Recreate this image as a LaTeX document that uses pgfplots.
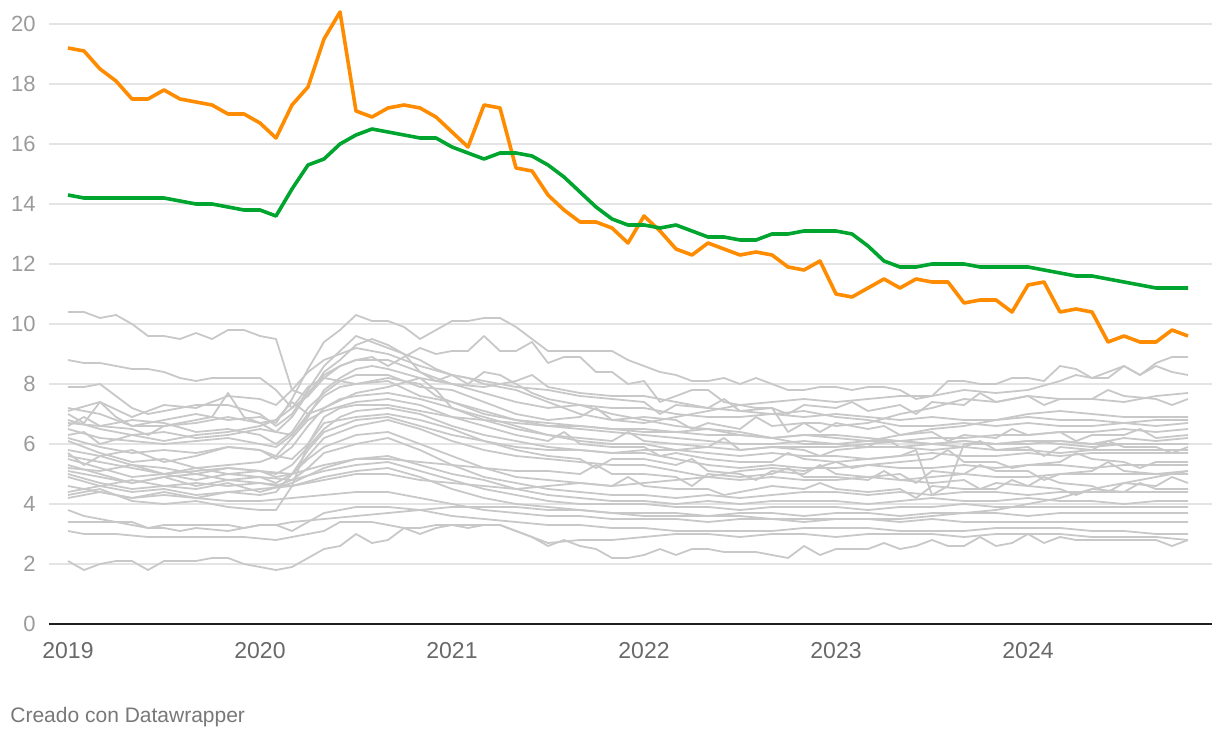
\documentclass[border=0pt]{standalone}
\usepackage{fontspec}
\setmainfont{Liberation Sans}
\usepackage{pgfplots}
\pgfplotsset{compat=1.18}
\definecolor{serieorange}{RGB}{255,140,0}
\definecolor{seriegreen}{RGB}{0,165,48}
\definecolor{greyline}{RGB}{200,200,200}
\definecolor{gridgrey}{RGB}{228,228,228}
\definecolor{ylab}{RGB}{155,155,155}
\definecolor{xlab}{RGB}{105,105,105}
\definecolor{foot}{RGB}{120,120,120}

\begin{document}
\begin{tikzpicture}
\useasboundingbox (-24.5pt,-58pt) rectangle (585.5pt,312pt);
\begin{axis}[
  scale only axis, width=581.5pt, height=300pt,
  xmin=-1.1875, xmax=71.5, ymin=0, ymax=20,
  clip=false,
  axis line style={draw=none},
  major tick length=0pt,
  /pgf/number format/assume math mode=true,
  ytick={2,4,...,20},
  extra y ticks={0},
  extra y tick style={grid style={draw=black!88, line width=1.3pt}},
  ymajorgrids, grid style={draw=gridgrey, line width=0.75pt},
  yticklabel style={font=\fontsize{11}{13}\selectfont, text=ylab, anchor=east, inner sep=0pt, xshift=-6.5pt},
  xtick={0,12,24,36,48,60},
  xticklabels={2019,2020,2021,2022,2023,2024},
  xticklabel style={font=\fontsize{11.5}{13}\selectfont, text=xlab, anchor=north, inner sep=0pt, yshift=-9pt},
  grey/.style={greyline, line width=0.9pt, line join=round},
]
% grey comparison series
\addplot[grey] coordinates {(0,10.4) (1,10.4) (2,10.2) (3,10.3) (4,10.0) (5,9.6) (6,9.6) (7,9.5) (8,9.7) (9,9.5) (10,9.8) (11,9.8) (12,9.6) (13,9.5) (14,7.8) (15,7.6) (16,8.2) (17,8.6) (18,8.8) (19,8.9) (20,8.6) (21,8.9) (22,9.2) (23,9.0) (24,9.1) (25,9.1) (26,9.6) (27,9.1) (28,9.1) (29,9.4) (30,8.7) (31,8.9) (32,8.9) (33,8.4) (34,8.4) (35,8.0) (36,8.1) (37,7.4) (38,7.6) (39,7.8) (40,7.8) (41,7.4) (42,7.3) (43,7.2) (44,7.2) (45,6.4) (46,6.7) (47,6.7) (48,6.6) (50,6.7) (52,7.0) (54,7.2) (56,7.5) (58,7.4) (60,7.6) (62,7.5) (64,7.5) (66,7.4) (68,7.6) (70,7.7)};
\addplot[grey] coordinates {(0,7.2) (2,7.0) (4,6.6) (6,6.8) (8,7.0) (10,6.8) (12,6.9) (13,6.7) (14,7.5) (15,8.5) (16,9.4) (17,9.8) (18,10.3) (19,10.1) (20,10.1) (21,9.9) (22,9.5) (23,9.8) (24,10.1) (25,10.1) (26,10.2) (27,10.2) (28,9.9) (29,9.5) (30,9.1) (32,9.1) (34,9.1) (35,8.8) (36,8.6) (37,8.4) (38,8.3) (39,8.1) (40,8.1) (41,8.2) (42,8.0) (43,8.2) (44,8.0) (45,7.8) (46,7.8) (47,7.9) (48,7.9) (49,7.8) (50,7.9) (51,7.9) (52,7.8) (53,7.5) (54,7.6) (55,8.1) (56,8.1) (57,8.0) (58,8.0) (59,8.2) (60,8.2) (61,8.1) (62,8.6) (63,8.5) (64,8.2) (65,8.2) (66,8.6) (67,8.3) (68,8.7) (69,8.9) (70,8.9)};
\addplot[grey] coordinates {(0,8.8) (1,8.7) (2,8.7) (3,8.6) (4,8.5) (5,8.5) (6,8.4) (7,8.2) (8,8.1) (9,8.2) (10,8.2) (11,8.2) (12,8.2) (13,7.8) (14,7.2) (15,7.6) (16,8.4) (17,8.8) (18,9.3) (19,9.5) (20,9.3) (21,9.0) (22,8.8) (23,8.5) (24,8.3) (25,8.0) (26,8.4) (27,8.3) (28,8.0) (29,7.7) (30,7.5) (32,7.3) (34,7.0) (36,6.8) (38,6.6) (40,6.5) (42,6.4) (44,6.2) (46,6.0) (48,6.0) (50,6.1) (52,6.3) (54,6.5) (56,6.6) (58,6.8) (60,7.0) (62,7.1) (64,7.0) (66,6.9) (68,6.9) (70,6.9)};
\addplot[grey] coordinates {(0,7.9) (1,7.9) (2,8.0) (3,7.6) (4,7.2) (5,7.0) (6,7.1) (7,7.2) (8,7.3) (10,7.3) (12,7.0) (13,6.6) (14,7.0) (15,7.8) (16,8.6) (17,9.1) (18,9.6) (19,9.4) (20,9.2) (21,9.0) (22,8.4) (23,8.1) (24,8.3) (25,8.2) (26,8.0) (28,7.8) (30,7.4) (32,7.0) (34,6.8) (36,6.7) (38,6.9) (40,7.1) (42,7.3) (44,7.4) (46,7.5) (48,7.4) (50,7.5) (52,7.6) (54,7.6) (56,7.8) (58,7.7) (60,7.8) (62,8.1) (63,8.3) (64,8.2) (65,8.4) (66,8.6) (67,8.3) (68,8.6) (69,8.4) (70,8.3)};
\addplot[grey] coordinates {(0,7.1) (2,7.4) (4,6.9) (6,7.3) (8,7.2) (10,7.6) (12,7.5) (13,7.3) (14,7.8) (15,8.4) (16,8.8) (18,9.2) (20,9.0) (22,8.6) (24,8.3) (26,8.1) (28,7.9) (30,7.8) (32,7.6) (34,7.5) (36,7.4) (37,7.0) (38,7.3) (40,7.2) (41,7.5) (42,7.1) (44,7.2) (45,7.0) (46,7.3) (48,7.2) (49,7.4) (50,7.1) (52,7.3) (53,7.0) (54,7.4) (56,7.3) (57,7.7) (58,7.4) (60,7.6) (61,7.3) (62,7.5) (64,7.5) (65,7.8) (66,7.6) (68,7.5) (69,7.3) (70,7.5)};
\addplot[grey] coordinates {(0,7.0) (1,6.7) (2,7.4) (3,6.9) (4,6.6) (6,6.6) (8,6.8) (9,6.9) (10,7.7) (11,6.9) (12,6.7) (13,6.4) (14,6.9) (15,7.7) (16,8.3) (17,8.6) (18,8.8) (20,8.8) (22,8.4) (24,8.0) (26,7.9) (28,8.1) (29,8.3) (30,7.9) (32,7.7) (34,7.6) (36,7.6) (38,7.4) (40,7.2) (42,7.1) (44,7.0) (46,6.9) (48,7.0) (50,6.9) (52,6.8) (54,6.9) (56,6.8) (58,6.8) (60,6.9) (62,6.8) (64,6.8) (66,6.7) (68,6.8) (70,6.8)};
\addplot[grey] coordinates {(0,6.8) (2,6.5) (4,6.3) (6,6.4) (8,6.2) (10,6.3) (12,6.5) (13,6.4) (14,6.3) (15,6.9) (16,7.8) (17,8.2) (18,8.5) (19,8.6) (20,8.5) (22,8.2) (24,8.0) (26,7.7) (28,7.4) (30,7.2) (32,7.3) (34,7.2) (36,7.2) (38,7.0) (40,6.9) (42,6.9) (44,7.0) (46,7.1) (48,6.9) (50,6.8) (52,6.6) (54,6.6) (56,6.7) (58,6.6) (60,6.7) (62,6.6) (64,6.6) (66,6.7) (68,6.6) (70,6.7)};
\addplot[grey] coordinates {(0,6.7) (2,6.6) (4,6.8) (6,6.7) (8,6.4) (10,6.5) (12,6.3) (13,6.0) (14,6.4) (15,7.2) (16,7.7) (17,8.1) (18,8.3) (20,8.3) (21,8.1) (22,7.9) (24,7.8) (26,7.4) (28,7.0) (30,6.8) (32,6.9) (33,7.2) (34,6.8) (36,6.9) (38,6.8) (39,6.5) (40,6.7) (42,6.5) (43,6.9) (44,6.6) (46,6.7) (47,6.4) (48,6.7) (50,6.5) (51,6.6) (52,6.3) (54,6.4) (55,6.1) (56,6.3) (58,6.2) (59,6.5) (60,6.3) (62,6.4) (63,6.1) (64,6.3) (66,6.3) (67,6.5) (68,6.2) (70,6.3)};
\addplot[grey] coordinates {(0,6.6) (1,6.9) (2,6.6) (4,6.5) (5,6.3) (6,6.6) (8,6.7) (10,6.9) (12,6.7) (13,6.8) (14,7.2) (15,7.9) (16,8.2) (18,8.0) (20,8.2) (22,8.0) (23,7.6) (24,7.4) (26,7.0) (28,6.8) (30,6.7) (32,6.6) (34,6.5) (36,6.4) (38,6.4) (40,6.5) (42,6.3) (44,6.2) (46,6.3) (48,6.3) (50,6.2) (52,6.1) (54,6.0) (56,6.1) (58,6.0) (60,6.1) (62,6.0) (64,5.9) (66,6.0) (68,6.0) (70,6.0)};
\addplot[grey] coordinates {(0,6.5) (2,6.2) (4,6.1) (6,6.0) (8,6.1) (10,6.2) (12,6.0) (13,5.9) (14,6.3) (15,7.0) (16,7.6) (17,7.9) (18,8.0) (20,8.1) (22,7.6) (24,7.4) (26,7.1) (28,6.8) (30,6.6) (32,6.5) (34,6.4) (36,6.3) (38,6.2) (40,6.1) (42,6.0) (44,6.0) (46,6.1) (48,6.0) (50,5.9) (52,5.9) (54,5.8) (56,5.9) (58,5.8) (60,5.8) (62,5.7) (64,5.8) (66,5.8) (68,5.8) (70,5.8)};
\addplot[grey] coordinates {(0,6.3) (1,6.4) (2,6.0) (4,6.3) (6,6.1) (8,6.3) (10,6.4) (12,6.6) (13,6.8) (14,7.4) (15,7.0) (16,7.2) (18,7.7) (20,7.9) (22,8.2) (23,7.8) (24,7.2) (26,6.8) (28,6.5) (30,6.3) (32,6.2) (34,6.1) (35,6.4) (36,6.1) (38,6.0) (40,5.9) (41,6.2) (42,5.8) (44,5.9) (46,5.8) (47,5.6) (48,5.8) (50,5.9) (51,6.2) (52,5.9) (54,6.0) (56,5.9) (57,6.1) (58,5.8) (60,5.9) (61,5.6) (62,5.9) (64,5.8) (65,6.1) (66,5.9) (68,5.9) (69,5.7) (70,5.9)};
\addplot[grey] coordinates {(0,6.2) (2,5.9) (4,5.7) (6,5.8) (8,5.7) (10,5.9) (12,5.8) (13,5.5) (14,5.9) (15,6.6) (16,7.2) (17,7.5) (18,7.6) (20,7.7) (22,7.5) (24,7.2) (26,6.9) (28,6.6) (30,6.3) (32,6.1) (34,6.0) (36,6.0) (38,5.8) (40,5.7) (42,5.6) (44,5.7) (46,5.6) (48,5.6) (50,5.5) (52,5.6) (54,5.7) (56,5.6) (58,5.6) (60,5.7) (62,5.6) (64,5.7) (66,5.7) (68,5.7) (70,5.7)};
\addplot[grey] coordinates {(0,6.1) (2,5.7) (4,5.4) (6,5.5) (8,5.2) (10,5.3) (12,5.4) (13,5.6) (14,6.2) (15,6.8) (16,7.1) (18,7.4) (20,7.5) (22,7.3) (24,6.9) (26,6.6) (28,6.3) (30,6.1) (31,6.4) (32,6.0) (34,5.9) (36,5.9) (37,5.6) (38,5.7) (40,5.5) (42,5.4) (44,5.4) (45,5.7) (46,5.5) (48,5.4) (49,5.2) (50,5.3) (52,5.4) (54,5.5) (55,5.8) (56,5.4) (58,5.4) (59,5.2) (60,5.3) (62,5.4) (63,5.7) (64,5.5) (66,5.4) (67,5.2) (68,5.4) (70,5.4)};
\addplot[grey] coordinates {(0,5.8) (2,5.6) (4,5.3) (6,5.0) (8,5.1) (10,5.2) (12,5.1) (13,5.0) (14,5.3) (15,5.9) (16,6.5) (17,6.9) (18,7.1) (20,7.2) (22,7.0) (24,6.6) (26,6.3) (28,6.1) (30,5.9) (32,5.8) (34,5.7) (36,5.7) (38,5.5) (40,5.3) (42,5.2) (44,5.3) (46,5.2) (48,5.2) (50,5.3) (52,5.2) (54,5.2) (56,5.3) (58,5.2) (60,5.3) (62,5.3) (64,5.2) (66,5.3) (68,5.3) (70,5.3)};
\addplot[grey] coordinates {(0,5.7) (1,5.3) (2,5.6) (4,5.8) (6,5.4) (8,5.6) (10,5.9) (12,5.8) (13,5.6) (14,5.5) (15,6.0) (16,6.7) (18,6.9) (20,7.0) (22,6.8) (24,6.5) (26,6.1) (28,5.8) (30,5.6) (32,5.5) (33,5.2) (34,5.5) (36,5.5) (38,5.3) (39,5.5) (40,5.1) (42,5.0) (43,4.8) (44,5.1) (46,5.0) (47,5.3) (48,5.0) (50,4.9) (52,5.0) (53,4.7) (54,5.1) (56,5.0) (57,5.3) (58,5.1) (60,5.1) (61,4.8) (62,5.0) (64,5.1) (65,5.4) (66,5.1) (68,5.0) (70,5.1)};
\addplot[grey] coordinates {(0,5.6) (2,5.4) (4,5.2) (6,5.0) (8,5.2) (10,5.0) (12,5.1) (13,4.9) (14,5.0) (15,5.6) (16,6.2) (18,6.6) (20,6.8) (22,6.5) (24,6.1) (26,5.8) (28,5.6) (30,5.5) (32,5.4) (34,5.3) (36,5.3) (38,5.1) (40,4.9) (42,4.8) (44,4.9) (46,4.8) (48,4.8) (50,4.9) (52,4.8) (54,4.9) (56,5.0) (58,4.9) (60,4.9) (62,5.0) (64,5.0) (66,5.0) (68,5.0) (70,5.0)};
\addplot[grey] coordinates {(0,5.5) (2,5.2) (4,4.9) (6,5.0) (8,4.8) (10,5.0) (12,4.9) (13,4.7) (14,5.0) (15,5.5) (16,5.9) (18,6.3) (20,6.4) (22,6.0) (24,5.6) (26,5.2) (28,4.9) (30,4.8) (32,4.7) (34,4.6) (35,4.9) (36,4.6) (38,4.5) (40,4.5) (41,4.3) (42,4.4) (44,4.6) (46,4.5) (47,4.7) (48,4.5) (50,4.4) (52,4.5) (53,4.2) (54,4.6) (56,4.5) (58,4.5) (59,4.8) (60,4.6) (62,4.5) (63,4.3) (64,4.5) (66,4.4) (67,4.7) (68,4.5) (70,4.5)};
\addplot[grey] coordinates {(0,5.3) (2,5.0) (4,4.7) (6,4.9) (8,4.6) (10,4.8) (12,4.7) (13,4.6) (14,4.8) (15,5.2) (16,5.7) (18,6.0) (20,6.2) (22,5.8) (24,5.3) (26,4.9) (28,4.7) (30,4.5) (32,4.4) (34,4.3) (36,4.3) (38,4.2) (40,4.3) (42,4.2) (44,4.3) (46,4.4) (48,4.4) (50,4.3) (52,4.4) (54,4.3) (56,4.4) (58,4.4) (60,4.3) (62,4.4) (64,4.4) (66,4.4) (68,4.4) (70,4.4)};
\addplot[grey] coordinates {(0,5.2) (2,5.1) (4,5.3) (6,5.2) (8,5.0) (10,5.2) (12,5.1) (14,5.0) (16,5.3) (18,5.5) (20,5.6) (22,5.3) (24,5.0) (26,4.8) (28,4.5) (30,4.3) (32,4.2) (34,4.1) (36,4.1) (38,4.0) (40,4.1) (42,4.0) (44,4.1) (46,4.1) (48,4.1) (50,4.0) (52,4.1) (54,4.2) (56,4.1) (58,4.1) (60,4.2) (62,4.1) (64,4.1) (66,4.0) (68,4.1) (70,4.1)};
\addplot[grey] coordinates {(0,5.1) (2,4.9) (4,4.7) (6,4.9) (8,5.0) (10,4.8) (12,4.9) (14,4.8) (16,5.1) (18,5.3) (20,5.4) (22,5.1) (24,4.8) (26,4.5) (28,4.3) (30,4.1) (32,4.0) (34,4.0) (36,4.0) (38,3.9) (40,3.9) (42,3.8) (44,3.9) (46,3.9) (48,3.9) (50,3.8) (52,3.9) (54,3.9) (56,4.0) (58,3.9) (60,3.9) (62,3.9) (64,3.9) (66,3.9) (68,3.9) (70,3.9)};
\addplot[grey] coordinates {(0,5.0) (2,4.7) (4,4.5) (6,4.6) (8,4.7) (10,4.6) (12,4.7) (14,4.6) (16,4.9) (18,5.1) (20,5.2) (22,4.9) (24,4.5) (26,4.2) (28,4.0) (30,3.9) (32,3.8) (34,3.7) (36,3.7) (38,3.7) (40,3.6) (42,3.7) (44,3.7) (46,3.6) (48,3.7) (50,3.7) (52,3.6) (54,3.7) (56,3.7) (58,3.7) (60,3.6) (62,3.7) (64,3.7) (66,3.7) (68,3.7) (70,3.7)};
\addplot[grey] coordinates {(0,4.9) (2,4.6) (4,4.4) (6,4.5) (8,4.3) (10,4.4) (12,4.5) (14,4.6) (16,4.8) (18,5.0) (20,5.0) (22,4.8) (24,4.7) (26,4.6) (28,4.5) (30,4.6) (32,4.7) (34,4.6) (36,4.7) (38,4.8) (40,4.9) (42,5.1) (44,5.2) (46,5.1) (48,5.4) (50,5.5) (52,5.6) (53,5.8) (54,4.3) (55,4.6) (56,6.0) (58,6.0) (60,6.1) (62,6.1) (64,6.0) (66,6.2) (68,6.1) (70,6.2)};
\addplot[grey] coordinates {(0,4.6) (2,4.4) (4,4.2) (6,4.3) (8,4.2) (10,4.1) (12,4.1) (14,4.2) (16,4.3) (18,4.4) (20,4.4) (22,4.2) (24,4.0) (26,3.8) (28,3.7) (30,3.6) (32,3.6) (34,3.5) (36,3.5) (38,3.5) (40,3.4) (42,3.5) (44,3.5) (46,3.4) (48,3.5) (50,3.5) (52,3.5) (54,3.6) (56,3.7) (58,3.8) (60,4.0) (62,4.2) (64,4.5) (66,4.7) (68,4.9) (70,5.1)};
\addplot[grey] coordinates {(0,4.4) (2,4.6) (4,4.8) (6,4.6) (8,4.5) (10,4.7) (12,4.4) (14,4.7) (16,5.2) (18,5.5) (20,5.5) (22,5.4) (24,5.3) (26,5.2) (28,5.1) (30,5.1) (32,5.0) (33,5.3) (34,5.0) (36,5.0) (38,4.9) (39,4.6) (40,5.0) (42,4.9) (44,5.0) (45,5.2) (46,4.9) (48,4.9) (50,4.8) (51,5.1) (52,4.8) (54,4.7) (56,4.8) (57,4.5) (58,4.7) (60,4.6) (61,4.9) (62,4.7) (64,4.6) (65,4.4) (66,4.7) (68,4.6) (69,4.9) (70,4.7)};
\addplot[grey] coordinates {(0,4.3) (2,4.5) (4,4.1) (6,4.0) (8,4.1) (10,3.9) (12,3.8) (13,3.8) (14,4.6) (15,6.0) (16,6.9) (17,7.2) (18,7.3) (20,7.3) (22,7.1) (24,6.9) (26,6.8) (28,6.7) (30,6.6) (32,6.6) (34,6.5) (36,6.5) (38,6.4) (40,6.3) (42,6.3) (44,6.2) (46,6.3) (48,6.2) (50,6.1) (52,6.1) (54,6.0) (56,6.1) (58,6.0) (60,6.0) (62,6.1) (64,6.0) (66,6.0) (68,6.0) (70,6.0)};
\addplot[grey] coordinates {(0,4.2) (2,4.4) (4,4.2) (6,4.4) (8,4.2) (10,4.4) (12,4.3) (13,4.4) (14,5.0) (15,5.8) (16,6.4) (18,6.8) (20,6.9) (22,6.6) (24,6.3) (26,6.1) (28,5.9) (30,5.8) (32,5.8) (34,5.7) (36,5.8) (38,5.8) (40,5.9) (42,5.8) (44,5.9) (46,5.9) (48,5.9) (50,6.0) (52,6.1) (54,6.2) (56,6.2) (58,6.3) (60,6.3) (62,6.4) (64,6.4) (66,6.5) (68,6.4) (70,6.5)};
\addplot[grey] coordinates {(0,3.8) (1,3.6) (2,3.5) (3,3.4) (4,3.3) (5,3.2) (6,3.2) (7,3.1) (8,3.2) (10,3.1) (12,3.3) (13,3.3) (14,3.4) (16,3.5) (18,3.6) (20,3.7) (22,3.8) (24,3.9) (26,3.9) (28,3.9) (30,3.8) (32,3.8) (34,3.7) (36,3.6) (38,3.6) (40,3.6) (42,3.6) (44,3.5) (46,3.5) (48,3.5) (50,3.5) (52,3.4) (54,3.5) (56,3.4) (58,3.4) (60,3.4) (62,3.4) (64,3.4) (66,3.4) (68,3.4) (70,3.4)};
\addplot[grey] coordinates {(0,3.4) (2,3.4) (4,3.4) (5,3.2) (6,3.3) (8,3.3) (10,3.3) (11,3.2) (12,3.3) (13,3.3) (14,3.1) (15,3.4) (16,3.7) (18,3.9) (20,3.9) (22,3.8) (24,3.6) (26,3.5) (28,3.4) (30,3.3) (32,3.3) (34,3.2) (36,3.2) (38,3.1) (40,3.1) (42,3.1) (44,3.1) (46,3.2) (48,3.2) (50,3.2) (52,3.1) (54,3.1) (56,3.1) (58,3.2) (60,3.2) (62,3.2) (64,3.1) (66,3.1) (68,3.0) (70,3.0)};
\addplot[grey] coordinates {(0,3.1) (1,3.0) (3,3.0) (5,2.9) (8,2.9) (11,2.9) (13,2.8) (14,2.9) (16,3.1) (17,3.4) (19,3.4) (21,3.2) (22,3.0) (23,3.2) (24,3.3) (26,3.3) (27,3.3) (28,3.1) (29,2.9) (30,2.7) (32,2.8) (34,2.8) (36,2.9) (38,3.0) (40,3.0) (42,2.9) (44,3.0) (46,3.0) (48,2.9) (50,3.0) (52,3.0) (54,3.0) (56,2.9) (58,3.0) (60,3.0) (62,3.0) (64,2.9) (66,2.9) (68,2.9) (70,2.8)};
\addplot[grey] coordinates {(0,2.1) (1,1.8) (2,2.0) (3,2.1) (4,2.1) (5,1.8) (6,2.1) (7,2.1) (8,2.1) (9,2.2) (10,2.2) (11,2.0) (12,1.9) (13,1.8) (14,1.9) (15,2.2) (16,2.5) (17,2.6) (18,3.0) (19,2.7) (20,2.8) (21,3.2) (22,3.2) (23,3.3) (24,3.3) (25,3.2) (26,3.3) (27,3.3) (28,3.1) (29,2.9) (30,2.6) (31,2.8) (32,2.6) (33,2.5) (34,2.2) (35,2.2) (36,2.3) (37,2.5) (38,2.3) (39,2.5) (40,2.5) (41,2.4) (42,2.4) (43,2.4) (44,2.3) (45,2.2) (46,2.6) (47,2.3) (48,2.5) (50,2.5) (51,2.7) (52,2.5) (53,2.6) (54,2.8) (55,2.6) (56,2.6) (57,2.9) (58,2.6) (59,2.7) (60,3.0) (61,2.7) (62,2.9) (63,2.8) (64,2.8) (66,2.8) (68,2.8) (69,2.6) (70,2.8)};
% highlighted series
\addplot[serieorange, line width=1.8pt, line join=round] coordinates {
(0,19.2) (1,19.1) (2,18.5) (3,18.1) (4,17.5) (5,17.5) (6,17.8) (7,17.5) (8,17.4) (9,17.3)
(10,17.0) (11,17.0) (12,16.7) (13,16.2) (14,17.3) (15,17.9) (16,19.5) (17,20.4) (18,17.1) (19,16.9)
(20,17.2) (21,17.3) (22,17.2) (23,16.9) (24,16.4) (25,15.9) (26,17.3) (27,17.2) (28,15.2) (29,15.1)
(30,14.3) (31,13.8) (32,13.4) (33,13.4) (34,13.2) (35,12.7) (36,13.6) (37,13.1) (38,12.5) (39,12.3)
(40,12.7) (41,12.5) (42,12.3) (43,12.4) (44,12.3) (45,11.9) (46,11.8) (47,12.1) (48,11.0) (49,10.9)
(50,11.2) (51,11.5) (52,11.2) (53,11.5) (54,11.4) (55,11.4) (56,10.7) (57,10.8) (58,10.8) (59,10.4)
(60,11.3) (61,11.4) (62,10.4) (63,10.5) (64,10.4) (65,9.4) (66,9.6) (67,9.4) (68,9.4) (69,9.8) (70,9.6)};
\addplot[seriegreen, line width=1.8pt, line join=round] coordinates {
(0,14.3) (1,14.2) (2,14.2) (3,14.2) (4,14.2) (5,14.2) (6,14.2) (7,14.1) (8,14.0) (9,14.0)
(10,13.9) (11,13.8) (12,13.8) (13,13.6) (14,14.5) (15,15.3) (16,15.5) (17,16.0) (18,16.3) (19,16.5)
(20,16.4) (21,16.3) (22,16.2) (23,16.2) (24,15.9) (25,15.7) (26,15.5) (27,15.7) (28,15.7) (29,15.6)
(30,15.3) (31,14.9) (32,14.4) (33,13.9) (34,13.5) (35,13.3) (36,13.3) (37,13.2) (38,13.3) (39,13.1)
(40,12.9) (41,12.9) (42,12.8) (43,12.8) (44,13.0) (45,13.0) (46,13.1) (47,13.1) (48,13.1) (49,13.0)
(50,12.6) (51,12.1) (52,11.9) (53,11.9) (54,12.0) (55,12.0) (56,12.0) (57,11.9) (58,11.9) (59,11.9)
(60,11.9) (61,11.8) (62,11.7) (63,11.6) (64,11.6) (65,11.5) (66,11.4) (67,11.3) (68,11.2) (69,11.2) (70,11.2)};
\end{axis}
\node[anchor=base west, inner sep=0pt, font=\fontsize{10.5}{12}\selectfont, text=foot] at (-19.5pt,-49pt) {Creado con Datawrapper};
\end{tikzpicture}
\end{document}
